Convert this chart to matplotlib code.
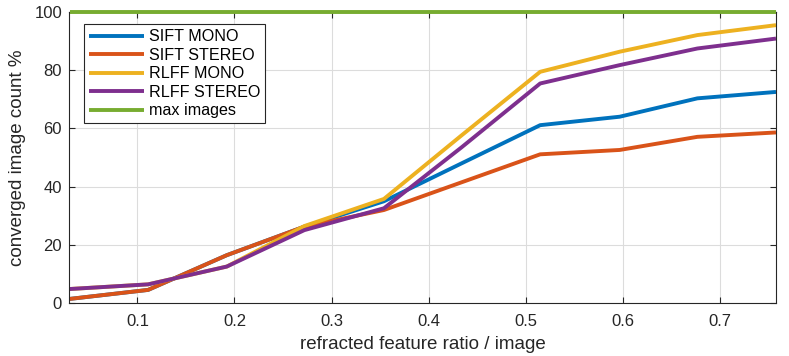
import matplotlib
matplotlib.use("Agg")
import matplotlib.pyplot as plt

plt.rcParams['font.family'] = ['Liberation Sans', 'DejaVu Sans']

# ratio of refracted features per image
x_ratio = [0.030, 0.111, 0.192, 0.272, 0.354, 0.434, 0.515, 0.597, 0.677, 0.758]

sift_mono = [1.5, 4.6, 16.5, 26.3, 35.0, 48.0, 61.1, 64.0, 70.3, 72.5]
sift_stereo = [1.5, 4.6, 16.5, 26.3, 32.0, 41.5, 51.1, 52.6, 57.1, 58.6]
rlff_mono = [4.9, 6.5, 12.6, 26.5, 35.8, 57.6, 79.4, 86.3, 92.0, 95.4]
rlff_stereo = [4.9, 6.5, 12.6, 25.1, 32.6, 53.5, 75.4, 81.7, 87.4, 90.8]
max_images = [100] * len(x_ratio)

labels = ["SIFT MONO", "SIFT STEREO", "RLFF MONO", "RLFF STEREO", "max images"]
colores = ["#0072BD", "#D95319", "#EDB120", "#7E2F8E", "#77AC30"]

fig = plt.figure(figsize=(7.89, 3.56), dpi=100)
ax = fig.add_axes([0.0875, 0.148, 0.896, 0.819])

series = [sift_mono, sift_stereo, rlff_mono, rlff_stereo, max_images]
for y, lab, c in zip(series, labels, colores):
    ln, = ax.plot(x_ratio, y, color=c, linewidth=2.8, label=lab, solid_capstyle='butt')
    if lab == "max images":
        # la linea de 100 tapa el borde superior
        ln.set_clip_on(False)
        ln.set_zorder(3)

ax.set_xlim(x_ratio[0] - 0.0005, x_ratio[-1])
ax.set_ylim(0, 100)
ax.set_xticks([0.1, 0.2, 0.3, 0.4, 0.5, 0.6, 0.7])
ax.set_yticks([0, 20, 40, 60, 80, 100])
ax.grid(True, color='#dcdcdc', linewidth=0.8)
ax.set_axisbelow(True)
ax.tick_params(direction='in', top=True, right=True, labelsize=12,
               colors='#262626', length=4)
ax.tick_params(axis='x', pad=8)
ax.tick_params(axis='y', pad=5)
for s in ax.spines.values():
    s.set_color('#262626')
    s.set_linewidth(0.8)

ax.set_xlabel("refracted feature ratio / image", fontsize=13.5, color='#262626', labelpad=5)
ax.set_ylabel("converged image count %", fontsize=13.5, color='#262626', labelpad=6)

leg = ax.legend(loc='upper left', bbox_to_anchor=(0.021, 0.958), fontsize=11.6,
                handlelength=3.4, handletextpad=0.3, borderpad=0.32,
                fancybox=False, edgecolor='#262626',
                framealpha=1, borderaxespad=0, labelspacing=0.22)
leg.get_frame().set_linewidth(0.8)
leg.set_zorder(4)

fig.savefig("out.png", dpi=100)
